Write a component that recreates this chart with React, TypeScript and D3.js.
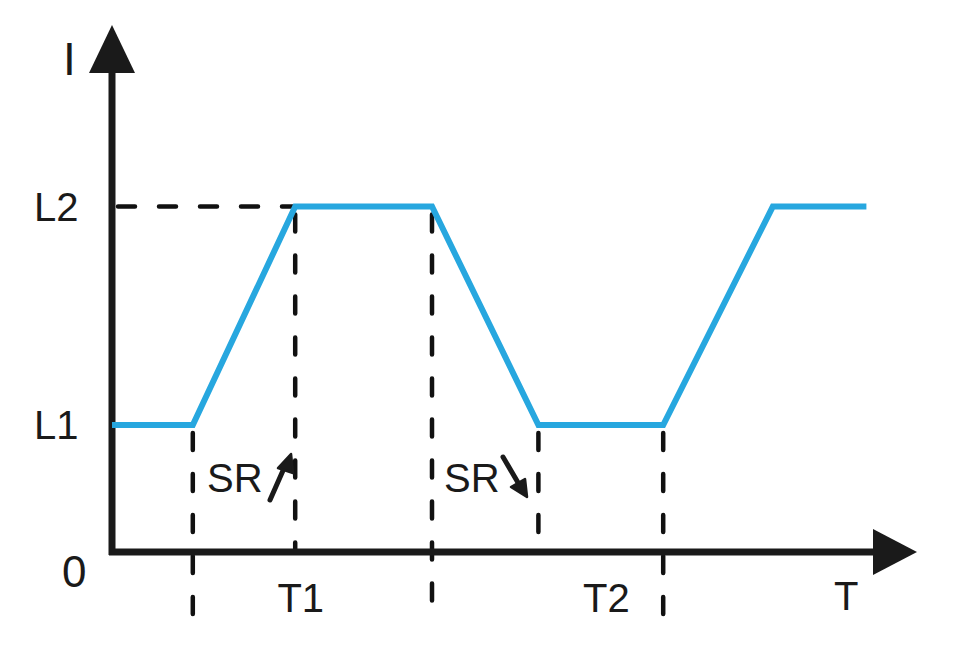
import * as d3 from "d3";
import React from "react";

// time positions of the current profile corners (arbitrary time units)
const times = [0, 1.01, 2.29, 4.0, 5.33, 6.89, 8.26, 9.43];
// current levels at those corners
const levels = [1, 1, 2.72, 2.72, 1, 1, 2.72, 2.72];

// y-axis level labels
const levelLabels = [
  { name: "L1", value: 1 },
  { name: "L2", value: 2.72 },
];
// time marks with dashed guides (value, whether the guide goes below the axis)
const guideTimes = [1.01, 2.29, 4.0, 5.33, 6.89];
const guideBelow = [true, false, true, false, true];
// interval labels under the x axis
const timeLabels = [
  { name: "T1", value: 2.38 },
  { name: "T2", value: 6.2 },
];

const W = 955;
const H = 668;
const BLUE = "#27a7df";

const App: React.FC = () => {
  const x = d3.scaleLinear().domain([0, 10]).range([112, 912]);
  const y = d3.scaleLinear().domain([0, 4]).range([552, 44]);

  const x0 = x(0);
  const y0 = y(0);
  const bottom = 616;

  const line = d3
    .line<number>()
    .x((_, i) => x(times[i]))
    .y((d) => y(d));

  const dash = { stroke: "#111", strokeWidth: 4.5, strokeDasharray: "17 24", strokeLinecap: "round" as const };
  const font = { fontFamily: "Liberation Sans, Arial, sans-serif", fill: "#1a1a1a" };

  const l2 = levels[2];

  return (
    <svg width={W} height={H} style={{ position: "absolute", left: 0, top: 0, background: "#fff" }}>
      {/* dashed horizontal guide at L2 */}
      <line x1={x0 + 6} x2={x(times[2])} y1={y(l2)} y2={y(l2)} {...dash} />
      {/* dashed vertical guides */}
      {guideTimes.map((t, i) => {
        const idx = times.indexOf(t);
        return (
          <line
            key={i}
            x1={x(t)}
            x2={x(t)}
            y1={y(levels[idx]) + 8}
            y2={guideBelow[i] ? bottom : y0}
            {...dash}
          />
        );
      })}

      {/* axes */}
      <line x1={x0} x2={x0} y1={y0 + 3} y2={60} stroke="#1a1a1a" strokeWidth={7} />
      <path d={`M${x0},25 L${x0 - 23},73 L${x0 + 23},73 Z`} fill="#1a1a1a" />
      <line x1={x0 - 3} x2={880} y1={y0} y2={y0} stroke="#1a1a1a" strokeWidth={7} />
      <path d={`M917,${y0} L873,${y0 - 23} L873,${y0 + 23} Z`} fill="#1a1a1a" />

      {/* current profile */}
      <path d={line(levels) ?? ""} fill="none" stroke={BLUE} strokeWidth={6} strokeLinejoin="miter" />

      {/* labels */}
      <text x={63} y={75} fontSize={46} {...font}>I</text>
      {levelLabels.map((d) => (
        <text key={d.name} x={34} y={y(d.value) + 14} fontSize={40} {...font}>
          {d.name}
        </text>
      ))}
      <text x={62} y={587} fontSize={44} {...font}>0</text>
      {timeLabels.map((d) => (
        <text key={d.name} x={x(d.value) - 25} y={612} fontSize={40} {...font}>
          {d.name}
        </text>
      ))}
      <text x={834} y={610} fontSize={40} {...font}>T</text>

      {/* slew-rate annotations */}
      <text x={207} y={492} fontSize={40} {...font}>SR</text>
      <line x1={270} y1={500} x2={285} y2={466} stroke="#1a1a1a" strokeWidth={5} strokeLinecap="round" />
      <path d="M291,454 L278,468 L293,473 Z" fill="#1a1a1a" stroke="#1a1a1a" strokeWidth={2.5} strokeLinejoin="round" />
      <text x={444} y={492} fontSize={40} {...font}>SR</text>
      <line x1={503} y1={457} x2={520} y2={486} stroke="#1a1a1a" strokeWidth={5} strokeLinecap="round" />
      <path d="M527,497 L511,487 L525,479 Z" fill="#1a1a1a" stroke="#1a1a1a" strokeWidth={2.5} strokeLinejoin="round" />
    </svg>
  );
};

export default App;
